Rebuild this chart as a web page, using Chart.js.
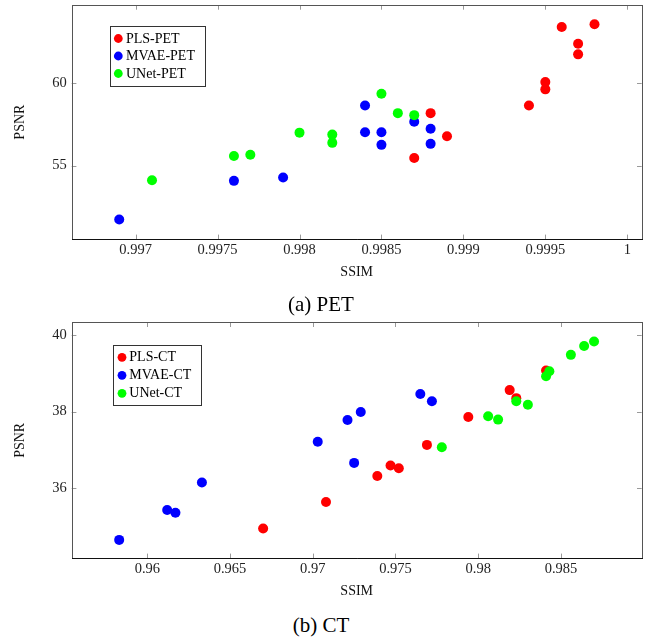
<!DOCTYPE html>
<html><head><meta charset="utf-8">
<script src="https://cdn.jsdelivr.net/npm/chart.js@4.4.1/dist/chart.umd.min.js"></script>
<style>
html,body{margin:0;padding:0;background:#fff;}
body{width:657px;height:643px;position:relative;overflow:hidden;}
canvas{position:absolute;left:0;}
.cap{position:absolute;left:0;width:642px;text-align:center;font-family:"Liberation Serif","Times New Roman",serif;font-size:21px;line-height:21px;color:#000;}
</style></head><body>
<canvas id="pet" width="657" height="290" style="top:0"></canvas>
<canvas id="ct" width="657" height="300" style="top:310px"></canvas>
<div class="cap" style="top:294px">(a) PET</div>
<div class="cap" style="top:615px">(b) CT</div>
<script>
// ---------- DATA ----------
const seriesNamesPET = ["PLS-PET", "MVAE-PET", "UNet-PET"];
const seriesNamesCT = ["PLS-CT", "MVAE-CT", "UNet-CT"];
const seriesColors = ["#ff0000", "#0000ff", "#00ff00"];

const petPLS_ssim = [0.9996, 0.9998, 0.9997, 0.9997, 0.9995, 0.9995, 0.9994, 0.9988, 0.9989, 0.9987];
const petPLS_psnr = [63.40, 63.56, 62.38, 61.74, 60.06, 59.62, 58.64, 58.18, 56.78, 55.46];
const petMVAE_ssim = [0.9969, 0.9976, 0.9979, 0.9984, 0.9984, 0.9985, 0.9985, 0.9987, 0.9988, 0.9988];
const petMVAE_psnr = [51.74, 54.08, 54.28, 58.64, 57.02, 57.02, 56.26, 57.66, 57.24, 56.32];
const petUNet_ssim = [0.9971, 0.9976, 0.9977, 0.9980, 0.9982, 0.9982, 0.9985, 0.9986, 0.9987];
const petUNet_psnr = [54.12, 55.58, 55.66, 57.00, 56.88, 56.38, 59.36, 58.18, 58.06];

const ctPLS_ssim = [0.9670, 0.9708, 0.9739, 0.9747, 0.9752, 0.9769, 0.9794, 0.9819, 0.9823, 0.9841];
const ctPLS_psnr = [34.95, 35.64, 36.32, 36.59, 36.52, 37.13, 37.86, 38.56, 38.35, 39.07];
const ctMVAE_ssim = [0.9583, 0.9612, 0.9617, 0.9633, 0.9703, 0.9725, 0.9721, 0.9729, 0.9765, 0.9772];
const ctMVAE_psnr = [34.65, 35.43, 35.36, 36.15, 37.21, 36.66, 37.78, 37.99, 38.46, 38.27];
const ctUNet_ssim = [0.9778, 0.9806, 0.9812, 0.9823, 0.9830, 0.9841, 0.9843, 0.9856, 0.9864, 0.9870];
const ctUNet_psnr = [37.07, 37.88, 37.79, 38.27, 38.18, 38.92, 39.05, 39.48, 39.71, 39.83];

const petXTicks = [0.997, 0.9975, 0.998, 0.9985, 0.999, 0.9995, 1];
const petYTicks = [55, 60];
const ctXTicks = [0.96, 0.965, 0.97, 0.975, 0.98, 0.985];
const ctYTicks = [36, 38, 40];

const petXRange = [0.99661, 1.000088];
const petYRange = [50.54, 64.73];
const ctXRange = [0.95543, 0.98988];
const ctYRange = [34.17, 40.33];

const xTitle = "SSIM";
const yTitle = "PSNR";

// ---------- RENDER ----------
const FONT = "'Liberation Serif','Times New Roman',serif";

const framePlugin = {
  id: 'frame',
  afterDatasetsDraw(chart) {
    const {ctx, chartArea: a} = chart;
    const x = chart.scales.x, y = chart.scales.y;
    const L = 4.7;
    ctx.save();
    ctx.strokeStyle = '#9a9a9a';
    ctx.lineWidth = 1;
    ctx.beginPath();
    x.ticks.forEach(t => {
      const px = Math.round(x.getPixelForValue(t.value)) + 0.5;
      ctx.moveTo(px, a.bottom); ctx.lineTo(px, a.bottom - L);
      ctx.moveTo(px, a.top); ctx.lineTo(px, a.top + L);
    });
    y.ticks.forEach(t => {
      const py = Math.round(y.getPixelForValue(t.value)) + 0.5;
      ctx.moveTo(a.left, py); ctx.lineTo(a.left + L, py);
      ctx.moveTo(a.right, py); ctx.lineTo(a.right - L, py);
    });
    ctx.stroke();
    ctx.strokeStyle = '#555';
    ctx.strokeRect(Math.round(a.left) + 0.5, Math.round(a.top) + 0.5,
                   Math.round(a.right) - Math.round(a.left), Math.round(a.bottom) - Math.round(a.top));
    ctx.strokeStyle = '#111';
    ctx.beginPath();
    ctx.moveTo(Math.round(a.left), Math.round(a.bottom) + 0.5);
    ctx.lineTo(Math.round(a.right) + 1, Math.round(a.bottom) + 0.5);
    ctx.stroke();
    ctx.restore();
  }
};

const legendPlugin = {
  id: 'insideLegend',
  afterDraw(chart, args, o) {
    const ctx = chart.ctx;
    ctx.save();
    ctx.fillStyle = '#fff';
    ctx.fillRect(o.left, o.top, o.right - o.left, o.bottom - o.top);
    ctx.strokeStyle = '#333';
    ctx.lineWidth = 1;
    ctx.strokeRect(Math.round(o.left) + 0.5, Math.round(o.top) + 0.5,
                   Math.round(o.right - o.left), Math.round(o.bottom - o.top));
    ctx.font = o.fontSize + "px " + FONT;
    ctx.textBaseline = 'middle';
    ctx.textAlign = 'left';
    chart.data.datasets.forEach((ds, i) => {
      const yy = o.rows[i];
      ctx.fillStyle = ds.backgroundColor;
      ctx.beginPath();
      ctx.arc(o.markerX, yy, 4.4, 0, Math.PI * 2);
      ctx.fill();
      ctx.fillStyle = '#000';
      ctx.fillText(ds.label, o.textX, yy + 0.5);
    });
    ctx.restore();
  }
};

function makePoints(xs, ys) { return xs.map((v, i) => ({x: v, y: ys[i]})); }

function makeChart(id, names, series, xr, yr, xt, yt, geo) {
  const datasets = series.map((s, i) => ({
    label: names[i],
    data: makePoints(s[0], s[1]),
    backgroundColor: seriesColors[i],
    borderWidth: 0,
    pointRadius: 5,
    pointHoverRadius: 5,
    order: 3 - i
  }));
  return new Chart(document.getElementById(id), {
    type: 'scatter',
    data: {datasets},
    plugins: [framePlugin, legendPlugin],
    options: {
      responsive: false,
      animation: false,
      devicePixelRatio: 1,
      layout: {padding: {left: 0, top: geo.top, right: 657 - geo.right, bottom: 0}},
      plugins: {
        legend: {display: false},
        tooltip: {enabled: false},
        insideLegend: geo.legend
      },
      scales: {
        x: {
          type: 'linear', min: xr[0], max: xr[1],
          grid: {display: false, drawTicks: false},
          border: {display: false},
          afterBuildTicks: (s) => { s.ticks = xt.map(v => ({value: v})); },
          afterFit: (s) => { s.height = geo.h - geo.bottom; s.paddingLeft = 0; s.paddingRight = 0; },
          ticks: {
            callback: (v) => String(v),
            autoSkip: false, maxRotation: 0, includeBounds: false,
            padding: 1.8, color: '#222',
            font: {family: FONT, size: 14.5}
          },
          title: {
            display: true, text: xTitle, color: '#111',
            font: {family: FONT, size: 14},
            padding: {top: 0, bottom: geo.xTitlePad}
          }
        },
        y: {
          type: 'linear', min: yr[0], max: yr[1],
          grid: {display: false, drawTicks: false},
          border: {display: false},
          afterBuildTicks: (s) => { s.ticks = yt.map(v => ({value: v})); },
          afterFit: (s) => { s.width = geo.left; s.paddingTop = 0; s.paddingBottom = 0; },
          ticks: {
            callback: (v) => String(v),
            autoSkip: false, includeBounds: false,
            padding: 5, color: '#222',
            font: {family: FONT, size: 14.5}
          },
          title: {
            display: true, text: yTitle, color: '#111',
            font: {family: FONT, size: 14},
            padding: {top: 12.1, bottom: 0}
          }
        }
      }
    }
  });
}

makeChart('pet', seriesNamesPET,
  [[petPLS_ssim, petPLS_psnr], [petMVAE_ssim, petMVAE_psnr], [petUNet_ssim, petUNet_psnr]],
  petXRange, petYRange, petXTicks, petYTicks,
  {left: 71.7, right: 641.7, top: 2.7, bottom: 239.3, h: 290, xTitlePad: 9.6,
   legend: {left: 109.7, top: 26.3, right: 204.5, bottom: 86, rows: [38.5, 56, 73.5], markerX: 118.3, textX: 126, fontSize: 14}});

makeChart('ct', seriesNamesCT,
  [[ctPLS_ssim, ctPLS_psnr], [ctMVAE_ssim, ctMVAE_psnr], [ctUNet_ssim, ctUNet_psnr]],
  ctXRange, ctYRange, ctXTicks, ctYTicks,
  {left: 71.7, right: 641.7, top: 12.3, bottom: 248.3, h: 300, xTitlePad: 10.6,
   legend: {left: 113.3, top: 35.3, right: 201.5, bottom: 95.5, rows: [47.3, 65.3, 83.3], markerX: 122, textX: 129.3, fontSize: 14}});
</script>
</body></html>
